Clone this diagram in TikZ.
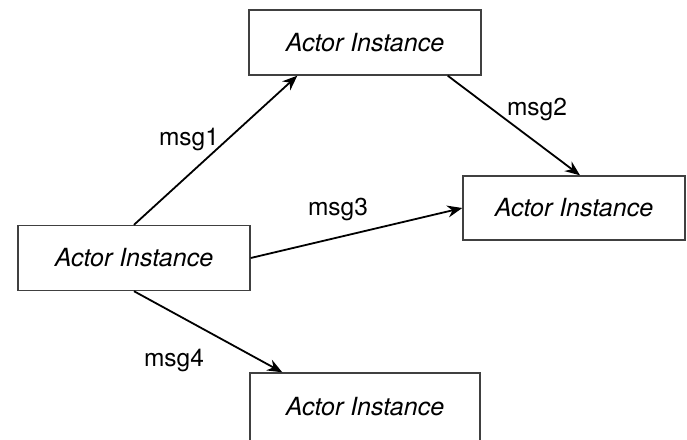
\documentclass[tikz,border=0pt]{standalone}
\usepackage{fontspec}
\setmainfont{TeX Gyre Heros}
\usetikzlibrary{arrows.meta}

\begin{document}
\begin{tikzpicture}[x = 1pt, y = -1pt,
        actor/.style = {draw = black!75, line width = 1.4pt, inner sep = 0pt, minimum width = 232pt, minimum height = 65pt, font = \fontsize{25}{30}\selectfont\itshape},
        msg/.style = {line width = 1.8pt, -{Stealth[length = 15pt, width = 12pt]}},
        tag/.style = {anchor = base, inner sep = 0pt, font = \fontsize{24.5}{29}\selectfont}]
        \clip (0, 0) rectangle (687, 439);
        % the four actors
        \node [actor] (sender) at (134, 258) {Actor Instance};
        \node [actor] (upper) at (365, 42.5) {Actor Instance};
        \node [actor, minimum width = 222pt, minimum height = 64pt] (side) at (574, 208) {Actor Instance};
        \node [actor, minimum width = 230pt, minimum height = 68pt] (lower) at (365, 407) {Actor Instance};
        % messages between them
        \draw [msg] (sender.north) -- ([xshift = 49pt]upper.south west);
        \draw [msg] ([xshift = -34pt]upper.south east) -- ([xshift = 6pt]side.north);
        \draw [msg] (sender.east) -- (side.west);
        \draw [msg] (sender.south) -- ([xshift = 33pt]lower.north west);
        \node [tag] (m1) at (189, 145) {msg1};
        \node [tag] (m2) at (537, 115) {msg2};
        \node [tag] (m3) at (338, 215) {msg3};
        \node [tag] (m4) at (174, 366) {msg4};
    \end{tikzpicture}
\end{document}
